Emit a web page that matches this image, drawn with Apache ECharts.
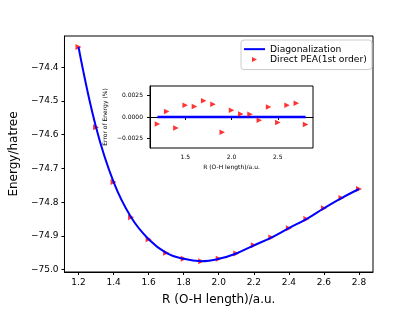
<!DOCTYPE html>
<html><head><meta charset="utf-8">
<script src="https://cdn.jsdelivr.net/npm/echarts@6/dist/echarts.min.js"></script>
<style>html,body{margin:0;padding:0;background:#fff}#c{width:415px;height:311px}</style>
</head><body><div id="c"></div>
<script>
const rValues = [1.2,1.3,1.4,1.5,1.6,1.7,1.8,1.9,2.0,2.1,2.2,2.3,2.4,2.5,2.6,2.7,2.8];
const energyDiag = [-74.340,-74.578,-74.740,-74.845,-74.910,-74.950,-74.968,-74.975,-74.968,-74.952,-74.928,-74.905,-74.877,-74.850,-74.818,-74.788,-74.761];
const energyPEA = [-74.340,-74.578,-74.740,-74.845,-74.910,-74.950,-74.968,-74.975,-74.968,-74.952,-74.928,-74.905,-74.877,-74.850,-74.818,-74.788,-74.761];
const errorPct = [-0.00081,0.00063,-0.00128,0.00136,0.00121,0.00190,0.00148,-0.00178,0.00078,0.00035,0.00031,-0.00038,0.00116,-0.00065,0.00136,0.00159,-0.00088];
const xTicks = [1.2,1.4,1.6,1.8,2.0,2.2,2.4,2.6,2.8];
const yTicks = [-75.0,-74.9,-74.8,-74.7,-74.6,-74.5,-74.4];
const insetXTicks = [1.5,2.0,2.5];
const insetYTicks = [-0.0025,0.0,0.0025];

const FONT = 'DejaVu Sans';
const minus = s => s.replace('-', '\u2212');
const zip = (a,b) => a.map((v,i)=>[v,b[i]]);

const chart = echarts.init(document.getElementById('c'));
chart.setOption({
  animation: false,
  textStyle: {fontFamily: FONT, color: '#000'},
  grid: [
    {left: 52, top: 36, right: 42, bottom: 35, show: true, borderColor: '#000', borderWidth: 1, backgroundColor: 'transparent'},
    {left: 150, top: 86, width: 163, height: 62, show: true, borderColor: '#000', borderWidth: 1, backgroundColor: '#fff', z: 10}
  ],
  xAxis: [
    {type: 'value', gridIndex: 0, min: 1.12, max: 2.88,
     name: 'R (O-H length)/a.u.', nameLocation: 'middle', nameGap: 22,
     nameTextStyle: {fontSize: 12, fontFamily: FONT, color: '#000'},
     axisLine: {show: true, lineStyle: {color: '#000', width: 1}},
     axisTick: {show: true, length: 3, customValues: xTicks, lineStyle: {color: '#000'}},
     axisLabel: {customValues: xTicks, fontSize: 9, margin: 6, color: '#000', fontFamily: FONT, formatter: v => minus(v.toFixed(1))},
     splitLine: {show: false}},
    {type: 'value', gridIndex: 1, min: 1.12, max: 2.88,
     name: 'R (O-H length)/a.u.', nameLocation: 'middle', nameGap: 16,
     nameTextStyle: {fontSize: 6, fontFamily: FONT, color: '#000'},
     axisLine: {show: true, lineStyle: {color: '#000', width: 1}},
     axisTick: {show: true, length: 3, customValues: insetXTicks, lineStyle: {color: '#000'}},
     axisLabel: {customValues: insetXTicks, fontSize: 6, margin: 6, color: '#000', fontFamily: FONT, formatter: v => v.toFixed(1)},
     splitLine: {show: false}, z: 10}
  ],
  yAxis: [
    {type: 'value', gridIndex: 0, min: -75.007, max: -74.3075,
     name: 'Energy/hatree', nameLocation: 'middle', nameGap: 40,
     nameTextStyle: {fontSize: 12, fontFamily: FONT, color: '#000'},
     axisLine: {show: true, lineStyle: {color: '#000', width: 1}},
     axisTick: {show: true, length: 3, customValues: yTicks, lineStyle: {color: '#000'}},
     axisLabel: {customValues: yTicks, fontSize: 9, margin: 6, color: '#000', fontFamily: FONT, formatter: v => minus(v.toFixed(1))},
     splitLine: {show: false}},
    {type: 'value', gridIndex: 1, min: -0.0036, max: 0.0036,
     name: 'Error of Energy (%)', nameLocation: 'middle', nameGap: 42,
     nameTextStyle: {fontSize: 6, fontFamily: FONT, color: '#000'},
     axisLine: {show: true, lineStyle: {color: '#000', width: 1}},
     axisTick: {show: true, length: 3, customValues: insetYTicks, lineStyle: {color: '#000'}},
     axisLabel: {customValues: insetYTicks, fontSize: 6, margin: 7, color: '#000', fontFamily: FONT, formatter: v => minus(v.toFixed(4))},
     splitLine: {show: false}, z: 10}
  ],
  legend: {
    left: 241, top: 40, orient: 'vertical', itemWidth: 21, itemHeight: 5, itemGap: 0,
    padding: [4, 5, 5, 2], borderColor: '#cccccc', borderWidth: 1, borderRadius: 3,
    backgroundColor: 'rgba(255,255,255,0.8)',
    textStyle: {fontSize: 9.2, lineHeight: 10.3, fontFamily: FONT, color: '#000'},
    data: [
      {name: 'Diagonalization', itemStyle: {opacity: 0}},
      {name: 'Direct PEA(1st order)', icon: 'path://M0,0L10,5L0,10Z'}
    ]
  },
  series: [
    {name: 'Direct PEA(1st order)', type: 'scatter', xAxisIndex: 0, yAxisIndex: 0,
     data: zip(rValues, energyPEA), symbol: 'triangle', symbolRotate: -90, symbolSize: 6,
     itemStyle: {color: '#ff0000'}, z: 2},
    {name: 'Diagonalization', type: 'line', xAxisIndex: 0, yAxisIndex: 0,
     data: zip(rValues, energyDiag), smooth: 0.4, symbol: 'none',
     lineStyle: {color: '#0000ff', width: 2}, itemStyle: {color: '#0000ff'}, z: 3},
    {name: 'insetZero', type: 'line', xAxisIndex: 1, yAxisIndex: 1,
     data: rValues.map(r => [r, 0]), symbol: 'none',
     lineStyle: {color: '#0000ff', width: 2.5}, z: 11},
    {name: 'insetErr', type: 'scatter', xAxisIndex: 1, yAxisIndex: 1,
     data: zip(rValues, errorPct), symbol: 'triangle', symbolRotate: -90, symbolSize: 5.5,
     itemStyle: {color: '#ff0000'}, z: 12}
  ]
});
</script></body></html>
